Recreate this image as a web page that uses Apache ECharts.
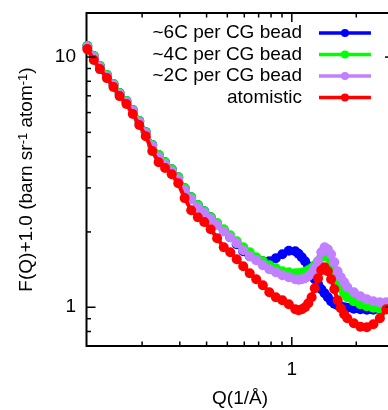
<!DOCTYPE html>
<html><head><meta charset="utf-8">
<script src="https://cdn.jsdelivr.net/npm/echarts@6/dist/echarts.min.js"></script>
<style>html,body{margin:0;padding:0;background:#fff}#c{width:388px;height:410px}</style>
</head><body><div id="c"></div>
<script>
// Q (1/Å)
const Q = [0.111,0.119,0.127,0.137,0.147,0.157,0.169,0.181,0.194,0.208,0.223,0.239,0.256,0.275,0.295,0.316,0.339,0.364,0.390,0.418,0.448,0.481,0.516,0.553,0.593,0.636,0.682,0.732,0.785,0.842,0.903,0.968,1.038,1.075,1.113,1.153,1.194,1.237,1.280,1.326,1.373,1.422,1.473,1.525,1.579,1.636,1.693,1.755,1.816,1.948,2.089,2.240,2.403,2.577,2.763,2.964,3.178];
// F(Q)+1.0
const F6C = [11.07,10.09,9.20,8.47,7.80,7.18,6.67,6.14,5.55,5.01,4.45,4.06,3.80,3.56,3.31,2.99,2.75,2.56,2.42,2.29,2.15,2.03,1.905,1.786,1.675,1.600,1.556,1.528,1.528,1.570,1.629,1.683,1.675,1.637,1.585,1.528,1.459,1.368,1.294,1.236,1.180,1.138,1.096,1.057,1.033,1.019,1.009,1.000,0.995,0.986,0.982,0.977,0.977,0.982,0.986,0.991,0.995];
const F4C = [11.07,10.09,9.20,8.47,7.80,7.18,6.67,6.14,5.55,5.01,4.45,4.06,3.80,3.56,3.31,2.99,2.75,2.56,2.42,2.29,2.17,2.05,1.94,1.837,1.738,1.660,1.585,1.528,1.472,1.432,1.393,1.380,1.368,1.368,1.374,1.387,1.406,1.432,1.472,1.528,1.585,1.614,1.585,1.486,1.368,1.259,1.191,1.138,1.096,1.057,1.028,1.009,0.995,0.986,0.982,0.977,0.973];
const F2C = [10.96,10.0,9.12,8.39,7.73,7.11,6.61,6.08,5.50,4.97,4.41,3.98,3.73,3.50,3.25,2.94,2.70,2.51,2.38,2.25,2.13,2.01,1.905,1.803,1.690,1.600,1.542,1.472,1.419,1.380,1.343,1.318,1.294,1.288,1.294,1.306,1.330,1.368,1.432,1.528,1.660,1.738,1.706,1.629,1.514,1.393,1.318,1.259,1.202,1.148,1.107,1.076,1.057,1.047,1.047,1.047,1.047];
const Fatom = [10.76,9.73,8.95,8.24,7.59,6.98,6.49,5.92,5.35,4.83,4.21,3.80,3.60,3.40,3.13,2.73,2.44,2.29,2.19,2.05,1.888,1.738,1.660,1.556,1.459,1.368,1.294,1.225,1.148,1.096,1.067,1.028,0.982,0.973,0.982,1.000,1.038,1.096,1.191,1.306,1.406,1.445,1.393,1.294,1.180,1.067,0.991,0.938,0.904,0.863,0.836,0.832,0.855,0.904,0.982,1.067,1.148];

const seriesNames = ['~6C per CG bead','~4C per CG bead','~2C per CG bead','atomistic'];
const seriesValues = [F6C, F4C, F2C, Fatom];
const colors = ['#0000ff','#00ff00','#c080ff','#ff0000'];

const xRange = [0.11, 3];
const yRange = [0.7, 15];
const xMajorTicks = [1];
const xMinorTicks = [0.2,0.3,0.4,0.5,0.6,0.7,0.8,0.9,2];
const yMajorTicks = [1,10];
const yMinorTicks = [0.8,0.9,2,3,4,5,6,7,8,9];
const legendRowCenters = [33, 54.5, 76, 97.5];

const FONT = "'Liberation Sans', Arial, sans-serif";
const chart = echarts.init(document.getElementById('c'), null, {renderer:'canvas'});

function powLabel(v){
  const l = Math.log10(v);
  return Math.abs(l - Math.round(l)) < 1e-6 ? String(Math.round(Math.pow(10, l))) : '';
}

function tickSeries(axis){
  const data = axis === 'x'
    ? xMajorTicks.map(v => [v, 1, 1]).concat(xMinorTicks.map(v => [v, 1, 0]))
    : yMajorTicks.map(v => [1, v, 1]).concat(yMinorTicks.map(v => [1, v, 0]));
  return {
    type:'custom', data, encode:{x:0, y:1}, silent:true, z:10, clip:false,
    renderItem(params, api){
      const len = api.value(2) === 1 ? 9 : 4.5;
      const style = {stroke:'#000', lineWidth:1.5};
      if (axis === 'x') {
        const v = api.value(0);
        const b = api.coord([v, yRange[0]]);
        const t = api.coord([v, yRange[1]]);
        return {type:'group', children:[
          {type:'line', shape:{x1:b[0], y1:b[1], x2:b[0], y2:b[1]-len}, style},
          {type:'line', shape:{x1:t[0], y1:t[1], x2:t[0], y2:t[1]+len}, style}
        ]};
      } else {
        const v = api.value(1);
        const l = api.coord([xRange[0], v]);
        const r = api.coord([xRange[1], v]);
        return {type:'group', children:[
          {type:'line', shape:{x1:l[0], y1:l[1], x2:l[0]+len, y2:l[1]}, style},
          {type:'line', shape:{x1:r[0], y1:r[1], x2:r[0]-len, y2:r[1]}, style}
        ]};
      }
    }
  };
}

const dataSeries = seriesNames.map((name, i) => ({
  name, type:'line', data: Q.map((q, j) => [q, seriesValues[i][j]]),
  symbol:'circle', symbolSize:10, showSymbol:true, showAllSymbol:true,
  lineStyle:{color:colors[i], width:4}, itemStyle:{color:colors[i]},
  z: 2 + i, silent:true
}));

const option = {
  animation:false,
  backgroundColor:'#fff',
  grid:{left:86.5, top:13, width:307.5, height:333, show:true, borderColor:'#000', borderWidth:2,
    backgroundColor:'transparent', outerBoundsMode:'none', containLabel:false},
  xAxis:{type:'log', logBase:10, min:xRange[0], max:xRange[1],
    axisLine:{show:false}, axisTick:{show:false}, splitLine:{show:false}, minorTick:{show:false},
    axisLabel:{fontSize:19, fontFamily:FONT, color:'#000', margin:14, formatter:powLabel}},
  yAxis:{type:'log', logBase:10, min:yRange[0], max:yRange[1],
    axisLine:{show:false}, axisTick:{show:false}, splitLine:{show:false}, minorTick:{show:false},
    axisLabel:{fontSize:19, fontFamily:FONT, color:'#000', margin:10.5, formatter:powLabel}},
  legend: seriesNames.map((n, i) => ({
    data:[n], orient:'vertical', right:15.3, top:legendRowCenters[i]-10, padding:0,
    align:'right', itemWidth:52, itemHeight:10, itemGap:0, selectedMode:false,
    lineStyle:{width:3.5},
    textStyle:{fontSize:19, fontFamily:FONT, color:'#000', lineHeight:20, padding:[0,12,0,0]}
  })),
  graphic:[
    {type:'text', x:240, y:399, silent:true,
      style:{text:'Q(1/Å)', fontSize:19, fontFamily:FONT, fill:'#000', align:'center', verticalAlign:'middle'}},
    {type:'text', x:27, y:179.5, rotation:Math.PI/2, silent:true,
      style:{text:'F(Q)+1.0 (barn sr{s|-1} atom{s|-1})', fontSize:19, fontFamily:FONT, fill:'#000',
        align:'center', verticalAlign:'middle', lineHeight:20,
        rich:{s:{fontSize:13, fontFamily:FONT, fill:'#000', verticalAlign:'top', lineHeight:10}}}}
  ],
  series: dataSeries.concat([tickSeries('x'), tickSeries('y')])
};
chart.setOption(option);
</script>
</body></html>
